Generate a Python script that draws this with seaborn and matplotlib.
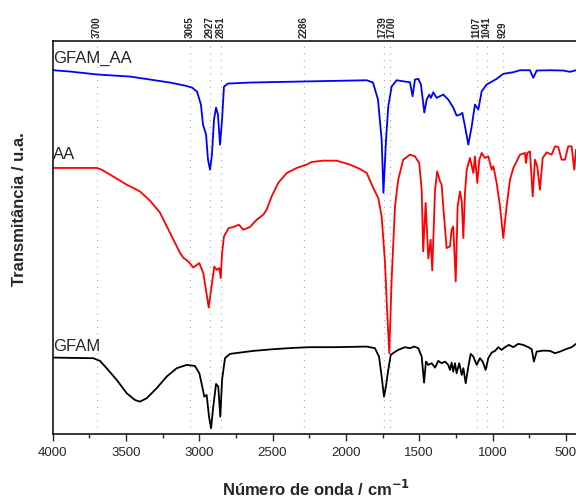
import numpy as np
import pandas as pd
import matplotlib
matplotlib.use("Agg")
import matplotlib.pyplot as plt
import matplotlib.transforms as mtransforms
import seaborn as sns

# ---- data (wavenumber cm-1, transmittance in arbitrary offset units) ----
gfam_aa_wn = [3996, 3881, 3690, 3472, 3335, 3199, 3097, 3049, 3015, 2988, 2974, 2953, 2940, 2926,
              2913, 2899, 2885, 2872, 2858, 2844, 2831, 2803, 2654, 2313, 1858, 1815, 1781, 1756,
              1744, 1726, 1711, 1688, 1654, 1611, 1563, 1545, 1529, 1506, 1488, 1465, 1449, 1431,
              1420, 1404, 1381, 1336, 1302, 1268, 1245, 1222, 1206, 1188, 1165, 1142, 1120, 1097,
              1074, 1040, 972, 949, 927, 859, 813, 745, 722, 699, 608, 517, 472, 431]
gfam_aa_t = [363.3, 362, 359, 357, 354, 351, 348, 346, 342, 329, 309, 299, 274, 264,
             279, 314, 326, 319, 289, 314, 347, 350, 351, 352, 353.3, 351, 334, 294,
             241, 294, 327, 347, 353.3, 352.3, 351.3, 337.3, 354, 354.7, 349, 321, 334, 339,
             335.7, 341.3, 335.7, 339, 334, 326, 318, 319, 320.7, 307.3, 289, 307.3, 329, 324,
             342.3, 349, 354.7, 357.3, 359.7, 361.3, 363.3, 363.3, 355.7, 363, 363.3, 363, 361.7, 363.3]

aa_wn = [3996, 3699, 3665, 3588, 3494, 3404, 3335, 3267, 3199, 3131, 3108, 3074, 3040, 2999,
         2972, 2954, 2935, 2922, 2897, 2881, 2863, 2853, 2844, 2831, 2799, 2767, 2729, 2699,
         2654, 2608, 2563, 2540, 2506, 2461, 2403, 2335, 2290, 2267, 2233, 2154, 2063, 1972,
         1904, 1858, 1813, 1779, 1756, 1733, 1718, 1704, 1688, 1665, 1643, 1609, 1563, 1529,
         1500, 1483, 1473, 1456, 1438, 1422, 1411, 1392, 1377, 1358, 1347, 1336, 1313, 1290,
         1279, 1268, 1251, 1238, 1222, 1210, 1199, 1188, 1176, 1154, 1131, 1120, 1104, 1090,
         1074, 1052, 1029, 1006, 994, 972, 949, 927, 904, 881, 858, 813, 779, 772, 763, 745,
         726, 711, 695, 677, 658, 631, 597, 574, 552, 529, 506, 484, 461, 443, 431]
aa_t = [265.7, 265.7, 264, 257.3, 249, 242.3, 233, 221, 201, 181, 176, 172.3, 166.3, 170.7,
        160.7, 144, 126.3, 140.7, 167.3, 164, 165.7, 155.7, 180.7, 197.3, 205.7, 206.7, 209, 204,
        206.7, 214, 219, 224, 237.3, 250.7, 260.7, 265.7, 268, 269, 271.7, 273, 273, 269,
        264.7, 260.7, 245.7, 235.7, 217.3, 171, 121, 80.7, 154, 227.3, 254, 274, 279, 277.3,
        270.7, 244, 182.3, 230.7, 175.3, 194, 163.3, 244, 262.3, 252.3, 249, 227.3, 185.7, 187.3,
        204, 207.3, 152.3, 227.3, 242.3, 232.3, 195.7, 240.7, 264, 275.7, 260.7, 277.3, 250.7, 274,
        280.7, 275.7, 277.3, 264, 267.3, 250.7, 227.3, 195.7, 227.3, 254, 265.7, 279, 280.7, 270.7, 280.7, 282.3,
        237.3, 274, 267.3, 244, 275.7, 281.3, 279, 287.3, 286.7, 274, 274, 287.3, 287.3, 264, 284]

gfam_wn = [3995, 3722, 3676, 3631, 3562, 3494, 3438, 3404, 3358, 3290, 3222, 3153, 3085, 3029,
           2999, 2979, 2965, 2949, 2933, 2919, 2904, 2885, 2870, 2856, 2844, 2824, 2790, 2722,
           2631, 2495, 2358, 2245, 2086, 1858, 1802, 1774, 1756, 1740, 1727, 1711, 1694, 1672,
           1643, 1597, 1563, 1534, 1506, 1483, 1467, 1454, 1438, 1415, 1392, 1370, 1347, 1324,
           1302, 1290, 1279, 1268, 1256, 1245, 1227, 1210, 1199, 1183, 1165, 1149, 1131, 1108,
           1086, 1067, 1047, 1029, 1006, 983, 961, 938, 915, 888, 859, 825, 791, 756, 733, 718,
           699, 654, 608, 574, 540, 495, 461, 431]
gfam_t = [76.3, 75.7, 73, 65.7, 54, 40.7, 34, 32.3, 35.7, 45.7, 57.3, 65.7, 69, 68,
          60.7, 47.3, 37.3, 39, 17.3, 5.7, 27.3, 50, 47.3, 17.3, 54, 75.7, 80, 81.3,
          83, 84.7, 86, 86.7, 86.7, 87.3, 85.7, 77.3, 57.3, 37.3, 47.3, 64, 79, 81.3,
          84, 86.7, 85.7, 87.3, 85.7, 77.3, 51.3, 72.3, 69, 70.7, 66.3, 73, 70.7, 72.3,
          69, 64, 71.3, 62.3, 70.7, 60.7, 70.7, 59, 65.7, 50.7, 67.3, 80, 77.3, 69,
          75.7, 72.3, 64, 75.7, 81.3, 83, 86.7, 84, 86.7, 89, 86.7, 90, 89, 86.7, 84.7, 72.3,
          82.3, 83.3, 83, 80.7, 82.3, 85, 86.7, 90]

band_positions = [3700, 3065, 2927, 2851, 2286, 1739, 1700, 1107, 1041, 929]
band_labels = ["3700", "3065", "2927", "2851", "2286", "1739", "1700", "1107", "1041", "929"]
series_names = ["GFAM_AA", "AA", "GFAM"]

# ---- figure ----
sns.set_style("ticks")
plt.rcParams["font.family"] = ["Liberation Sans", "DejaVu Sans"]

fig = plt.figure(figsize=(5.76, 5.0), dpi=100)
ax = fig.add_axes([52.5 / 576, 66 / 500, 1 - 52.5 / 576, (434 - 40.5) / 500])

frames = [
    pd.DataFrame({"wn": gfam_aa_wn, "t": gfam_aa_t}),
    pd.DataFrame({"wn": aa_wn, "t": aa_t}),
    pd.DataFrame({"wn": gfam_wn, "t": gfam_t}),
]
colors = ["#0000FF", "#FF0000", "#000000"]
for df, c in zip(frames, colors):
    sns.lineplot(data=df, x="wn", y="t", ax=ax, color=c, lw=1.3, sort=False, estimator=None)

for p in band_positions:
    ax.axvline(p, color="#a8a8a8", ls=(0, (1, 5)), lw=0.8, zorder=0)

ax.set_xlim(4000, 431)
ax.set_ylim(0, 393)
ax.set_xticks([4000, 3500, 3000, 2500, 2000, 1500, 1000, 500])
ax.set_xticks(np.arange(4000, 431, -250), minor=True)
ax.set_yticks([])
ax.tick_params(axis="x", which="major", direction="out", length=5, width=1, labelsize=9.5, pad=4)
ax.tick_params(axis="x", which="minor", direction="out", length=3, width=1)
ax.set_xlabel("")
ax.set_ylabel("")
for s in ["left", "bottom", "top"]:
    ax.spines[s].set_linewidth(1.1)
    ax.spines[s].set_color("black")
ax.spines["right"].set_visible(False)

# top band labels (slightly nudged apart where lines are very close)
nudges = {"1739": -1.6, "1700": 1.6}
blend = mtransforms.blended_transform_factory(ax.transData, ax.transAxes)
for p, lab in zip(band_positions, band_labels):
    dx = nudges.get(lab, 0) / 100.0
    tr = blend + mtransforms.ScaledTranslation(dx, 2.5 / 100.0, fig.dpi_scale_trans)
    ax.text(p, 1.0, lab, transform=tr, rotation=90, fontsize=7, fontweight="bold",
            ha="center", va="bottom", clip_on=False)

ax.text(3996, 375, series_names[0], fontsize=12, va="center", ha="left")
ax.text(3996, 279, series_names[1], fontsize=12, va="center", ha="left")
ax.text(3996, 87, series_names[2], fontsize=12, va="center", ha="left")

fig.text(316 / 576, 1 - 489 / 500, "Número de onda / cm$^{\\mathbf{-1}}$", fontsize=12,
         fontweight="bold", ha="center", va="center")
fig.text(20 / 576, 1 - 209 / 500, "Transmitância / u.a.", fontsize=12, fontweight="bold",
         rotation=90, ha="center", va="center")

fig.savefig("out.png", dpi=100)
